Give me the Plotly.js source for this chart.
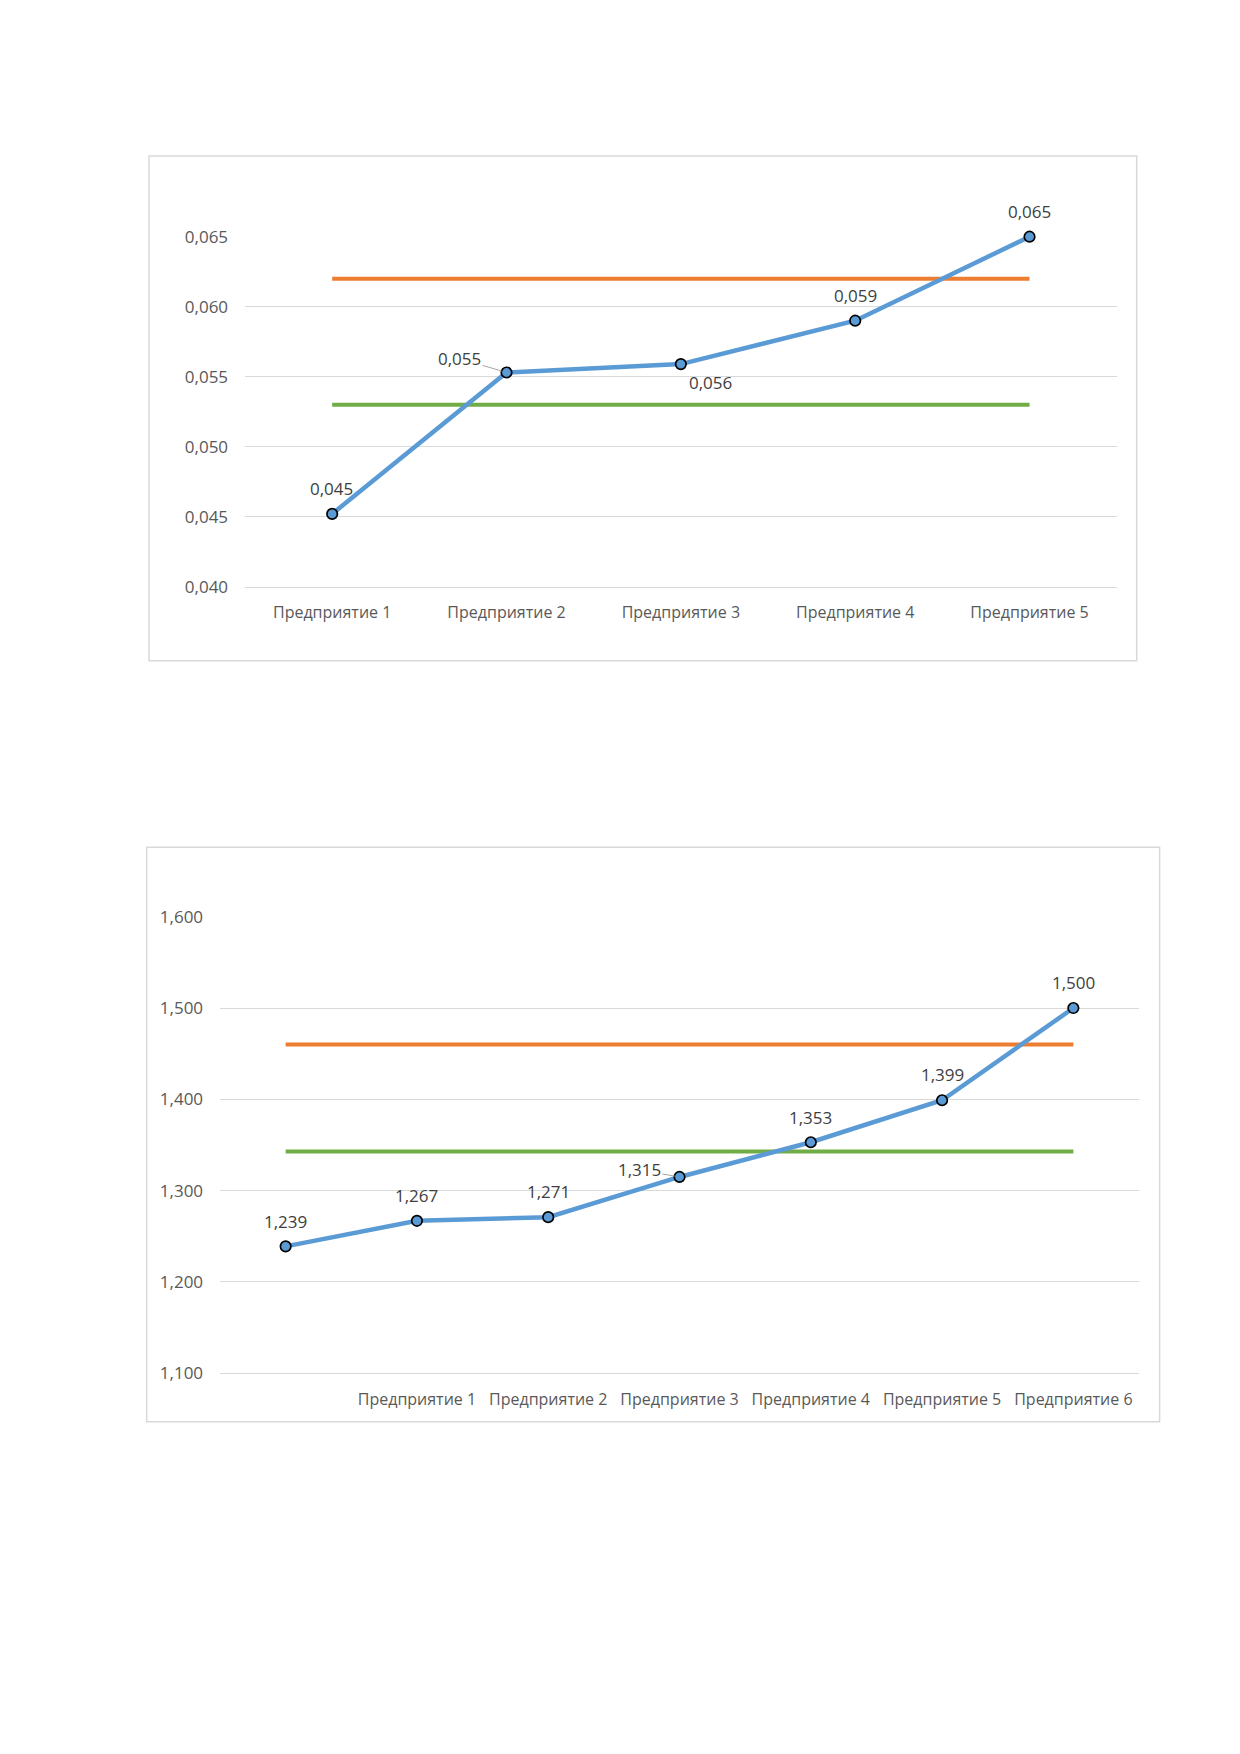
<!DOCTYPE html>
<html>
<head>
<meta charset="utf-8">
<script src="https://cdn.plot.ly/plotly-3.0.1.min.js"></script>
<style>
  html, body { margin: 0; padding: 0; background: #ffffff; }
  #chart { width: 1240px; height: 1754px; }
</style>
</head>
<body>
<div id="chart"></div>
<script>
// ---------- DATA ----------
const categories1 = ['Предприятие 1', 'Предприятие 2', 'Предприятие 3', 'Предприятие 4', 'Предприятие 5'];
const values1 = [0.0452, 0.0553, 0.0559, 0.0590, 0.0650];
const upper1 = [0.0620, 0.0620, 0.0620, 0.0620, 0.0620];
const lower1 = [0.0530, 0.0530, 0.0530, 0.0530, 0.0530];
const yTicks1 = [0.040, 0.045, 0.050, 0.055, 0.060, 0.065];

const categories2 = ['', 'Предприятие 1', 'Предприятие 2', 'Предприятие 3', 'Предприятие 4', 'Предприятие 5', 'Предприятие 6'];
const values2 = [1.239, 1.267, 1.271, 1.315, 1.353, 1.399, 1.500];
const upper2 = [1.460, 1.460, 1.460, 1.460, 1.460, 1.460, 1.460];
const lower2 = [1.343, 1.343, 1.343, 1.343, 1.343, 1.343, 1.343];
const yTicks2 = [1.100, 1.200, 1.300, 1.400, 1.500, 1.600];

// ---------- STYLE / LAYOUT HELPERS ----------
const W = 1240, H = 1754;
const px = v => v / W;
const py = v => 1 - v / H;
const BLUE = '#5B9BD5', ORANGE = '#ED7D31', GREEN = '#70AD47';
const GRID = '#D9D9D9';
const FONT = 'Open Sans, Noto Sans, sans-serif';
const fmt = v => v.toFixed(3).replace('.', ',');

// label placement offsets (pixels): [xshift, yshift, leader]
const labelPos1 = [[-1, 25, false], [-47, 14, true], [30, -18, false], [0, 25, false], [0, 25, false]];
const labelPos2 = [[0, 25, false], [0, 25, false], [0, 26, false], [-40, 7, true], [0, 25, false], [0, 26, false], [0, 26, false]];

const idx1 = categories1.map((_, i) => i);
const idx2 = categories2.map((_, i) => i);

function lineTrace(x, y, color, xa, ya) {
  return { x, y, xaxis: xa, yaxis: ya, type: 'scatter', mode: 'lines',
           line: { color, width: 4 }, hoverinfo: 'skip', cliponaxis: false };
}
function mainTrace(x, y, xa, ya) {
  return { x, y, xaxis: xa, yaxis: ya, type: 'scatter', mode: 'lines+markers',
           line: { color: BLUE, width: 4.5 },
           marker: { size: 10.5, color: BLUE, line: { color: '#000000', width: 1.7 } },
           hoverinfo: 'skip', cliponaxis: false };
}
function labels(x, y, pos, xa, ya) {
  return y.map((v, i) => {
    const p = pos[i];
    const base = { x: x[i], y: v, xref: xa, yref: ya, text: fmt(v),
                   font: { family: FONT, size: 17, color: '#404040' } };
    if (p[2]) {
      return Object.assign(base, { showarrow: true, ax: p[0], ay: -p[1], arrowhead: 0,
                                   arrowwidth: 1, arrowcolor: '#A6A6A6', standoff: 5 });
    }
    return Object.assign(base, { showarrow: false, xshift: p[0], yshift: p[1],
                                 xanchor: 'center', yanchor: 'middle' });
  });
}

const traces = [
  lineTrace(idx1, upper1, ORANGE, 'x', 'y'),
  lineTrace(idx1, lower1, GREEN, 'x', 'y'),
  mainTrace(idx1, values1, 'x', 'y'),
  lineTrace(idx2, upper2, ORANGE, 'x2', 'y2'),
  lineTrace(idx2, lower2, GREEN, 'x2', 'y2'),
  mainTrace(idx2, values2, 'x2', 'y2')
];

const xFont = { family: FONT, size: 16, color: '#595959' };
const yFont = { family: FONT, size: 17, color: '#595959' };
function xAxis(domain, idx, cats, anchor) {
  return { domain, anchor, range: [-0.5, idx.length - 0.5], tickmode: 'array',
           tickvals: idx, ticktext: cats, showgrid: false, zeroline: false,
           showline: true, linecolor: GRID, linewidth: 1,
           ticks: 'outside', ticklen: 11, tickcolor: 'rgba(0,0,0,0)',
           tickfont: xFont, fixedrange: true };
}
function yAxis(domain, range, tickvals, anchor) {
  return { domain, anchor, range, tickmode: 'array', tickvals,
           ticktext: tickvals.map(fmt), showgrid: true, gridcolor: GRID, gridwidth: 1,
           zeroline: false, showline: false,
           ticks: 'outside', ticklen: 12.5, tickcolor: 'rgba(0,0,0,0)',
           tickfont: yFont, fixedrange: true };
}

const layout = {
  width: W, height: H,
  margin: { l: 0, r: 0, t: 0, b: 0 },
  paper_bgcolor: '#ffffff', plot_bgcolor: 'rgba(0,0,0,0)',
  showlegend: false,
  xaxis: xAxis([px(245), px(1116.7)], idx1, categories1, 'y'),
  yaxis: yAxis([py(586.7), py(236.7)], [yTicks1[0], yTicks1[yTicks1.length - 1]], yTicks1, 'x'),
  xaxis2: xAxis([px(220), px(1139)], idx2, categories2, 'y2'),
  yaxis2: yAxis([py(1373.3), py(916.7)], [yTicks2[0], yTicks2[yTicks2.length - 1]], yTicks2, 'x2'),
  shapes: [
    { type: 'rect', xref: 'paper', yref: 'paper', x0: px(149), x1: px(1136.7), y0: py(660.7), y1: py(156),
      line: { color: GRID, width: 1.5 }, fillcolor: 'rgba(0,0,0,0)', layer: 'below' },
    { type: 'rect', xref: 'paper', yref: 'paper', x0: px(146.7), x1: px(1159.6), y0: py(1421.7), y1: py(847.3),
      line: { color: GRID, width: 1.5 }, fillcolor: 'rgba(0,0,0,0)', layer: 'below' }
  ],
  annotations: labels(idx1, values1, labelPos1, 'x', 'y').concat(labels(idx2, values2, labelPos2, 'x2', 'y2'))
};

Plotly.newPlot('chart', traces, layout, { displayModeBar: false, staticPlot: true });
</script>
</body>
</html>
